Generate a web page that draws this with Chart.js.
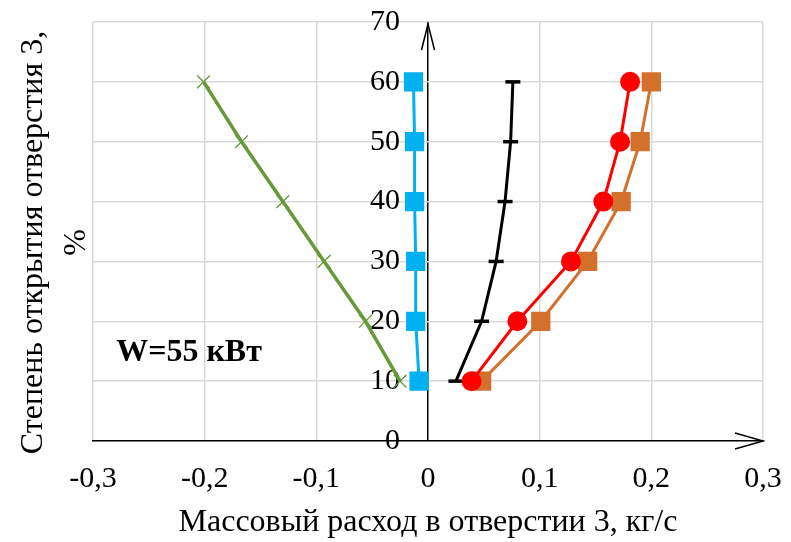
<!DOCTYPE html>
<html>
<head>
<meta charset="utf-8">
<script src="https://cdn.jsdelivr.net/npm/chart.js@4.4.0/dist/chart.umd.min.js"></script>
<style>
  html, body { margin: 0; padding: 0; background: #fff; }
</style>
</head>
<body>
<canvas id="myChart" width="791" height="542"></canvas>
<script>
// opening degree, % (y axis)
var openings = [10, 20, 30, 40, 50, 60];
// mass flow through opening 3, kg/s (x axis), one array per curve
var greenFlow = [-0.025, -0.056, -0.093, -0.13, -0.167, -0.201];
var blueFlow = [-0.008, -0.011, -0.011, -0.012, -0.012, -0.013];
var blackFlow = [0.025, 0.048, 0.061, 0.069, 0.074, 0.076];
var redFlow = [0.039, 0.080, 0.128, 0.157, 0.172, 0.181];
var orangeFlow = [0.048, 0.101, 0.143, 0.173, 0.190, 0.200];
// tick labels
var xTicks = [-0.3, -0.2, -0.1, 0, 0.1, 0.2, 0.3];
var yTicks = [0, 10, 20, 30, 40, 50, 60, 70];

var serif = "'Liberation Serif', 'Times New Roman', serif";

function pts(flow) {
  return flow.map(function (v, i) { return { x: v, y: openings[i] }; });
}
function commaLabel(v) {
  return (Math.round(v * 10) / 10).toString().replace('.', ',');
}
function noPad(s) {
  s.paddingTop = 0; s.paddingBottom = 0; s.paddingLeft = 0; s.paddingRight = 0;
}

// arrows on the axes + the "W=55 кВт" note
var extras = {
  id: 'extras',
  afterLayout: function (chart) {
    // centre the rotated axis title a bit lower, like the original
    chart.scales.yTitle.bottom += 22;
  },
  afterDraw: function (chart) {
    var c = chart.ctx, xs = chart.scales.x, ys = chart.scales.y;
    var x0 = xs.getPixelForValue(0), y0 = ys.getPixelForValue(0);
    var xEnd = xs.getPixelForValue(0.3), yTop = ys.getPixelForValue(70) + 2;
    c.save();
    c.strokeStyle = '#000';
    c.lineWidth = 1.5;
    c.beginPath();
    c.moveTo(xEnd - 28, y0 - 8); c.lineTo(xEnd, y0); c.lineTo(xEnd - 28, y0 + 8);
    c.moveTo(x0 - 6.5, yTop + 26); c.lineTo(x0, yTop); c.lineTo(x0 + 6.5, yTop + 26);
    c.stroke();
    c.fillStyle = '#000';
    c.font = "bold 32px " + serif;
    c.textAlign = 'center';
    c.textBaseline = 'middle';
    c.fillText('W=55 кВт', xs.getPixelForValue(-0.214), ys.getPixelForValue(14.8));
    c.restore();
  }
};

var ctx = document.getElementById('myChart');
var myChart = new Chart(ctx, {
  type: 'scatter',
  data: {
    datasets: [
      { data: pts(redFlow), showLine: true, borderColor: '#ff0000', backgroundColor: '#ff0000',
        borderWidth: 3, pointStyle: 'circle', pointRadius: 8.5 },
      { data: pts(orangeFlow), showLine: true, borderColor: '#d2702c', backgroundColor: '#d2702c',
        borderWidth: 3, pointStyle: 'rect', pointRadius: 11.5 },
      { data: pts(blackFlow), showLine: true, borderColor: '#000', backgroundColor: '#000',
        borderWidth: 3, pointStyle: 'line', pointRadius: 7.5, pointBorderWidth: 3.5 },
      { data: pts(blueFlow), showLine: true, borderColor: '#00b0f0', backgroundColor: '#00b0f0',
        borderWidth: 3, pointStyle: 'rect', pointRadius: 11.5 },
      { data: pts(greenFlow), showLine: true, borderColor: '#659a38', backgroundColor: '#659a38',
        borderWidth: 3.5, pointStyle: 'crossRot', pointRadius: 9, pointBorderWidth: 1.3 }
    ]
  },
  options: {
    responsive: false,
    animation: false,
    devicePixelRatio: 1,
    layout: { padding: { top: 22, right: 28, left: 0, bottom: 0 } },
    plugins: { legend: { display: false }, tooltip: { enabled: false } },
    scales: {
      x: {
        type: 'linear', position: 'bottom', min: -0.3, max: 0.3,
        afterBuildTicks: function (s) { s.ticks = xTicks.map(function (v) { return { value: v }; }); },
        afterFit: function (s) { s.height = 101; noPad(s); },
        grid: {
          color: function (c) { return c.tick && c.tick.value === 0 ? '#000' : '#d9d9d9'; },
          lineWidth: 1.5, drawTicks: false
        },
        border: { color: '#000', width: 1.5 },
        ticks: { padding: 20, color: '#000', font: { family: serif, size: 30 }, callback: commaLabel },
        title: { display: true, text: 'Массовый расход в отверстии 3, кг/с', color: '#000',
          font: { family: serif, size: 32 }, padding: { top: 2, bottom: 0 } }
      },
      y: {
        type: 'linear', position: { x: -0.025 }, min: 0, max: 70,
        afterBuildTicks: function (s) { s.ticks = yTicks.map(function (v) { return { value: v }; }); },
        afterFit: noPad,
        grid: { color: '#d9d9d9', lineWidth: 1.5, drawTicks: false, z: -1 },
        border: { display: false },
        ticks: { color: '#000', font: { family: serif, size: 30 } }
      },
      yTitle: {
        type: 'linear', position: 'left', display: true,
        afterFit: function (s) { s.width = 93; noPad(s); },
        grid: { display: false, drawTicks: false },
        border: { display: false },
        ticks: { display: false },
        title: { display: true, text: ['Степень открытия отверстия 3,', '%'], color: '#000',
          font: { family: serif, size: 32, lineHeight: 1.35 }, padding: { top: 12, bottom: 0 } }
      }
    }
  },
  plugins: [extras]
});
</script>
</body>
</html>
